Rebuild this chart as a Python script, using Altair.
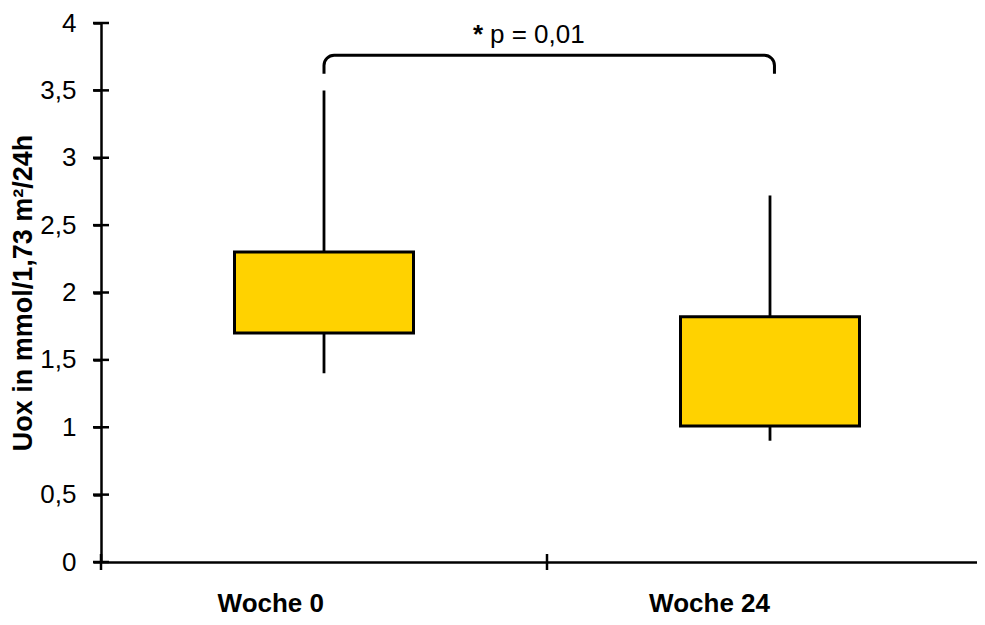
import altair as alt
import pandas as pd

# ---- data ----
categories = ["Woche 0", "Woche 24"]
whisker_low = [1.40, 0.90]
q1 = [1.70, 1.01]
q3 = [2.30, 1.82]
whisker_high = [3.50, 2.72]
y_ticks = [0, 0.5, 1, 1.5, 2, 2.5, 3, 3.5, 4]
y_title = "Uox in mmol/1,73 m²/24h"
p_text = "p = 0,01"
star_text = "*"

FONT = "Liberation Sans"
W, H = 892, 539
BOX_FILL = "#FFD200"

df = pd.DataFrame({"cat": categories, "lo": whisker_low, "q1": q1,
                   "q3": q3, "hi": whisker_high})
ticks_df = pd.DataFrame({"v": y_ticks})
bounds_df = pd.DataFrame({"cat": categories})
bracket_df = pd.DataFrame({"a": [categories[0]], "b": [categories[1]]})
ann_df = pd.DataFrame({"cat": [categories[1]], "p": [p_text], "s": [star_text]})

xscale = alt.Scale(domain=categories, paddingInner=0, paddingOuter=0)
yscale = alt.Scale(domain=[0, 4], nice=False)

x_axis = alt.Axis(title=None, labelFont=FONT, labelFontSize=26,
                  labelFontWeight="bold", labelColor="black", labelAngle=0,
                  ticks=False, labelPadding=41, domainColor="black",
                  domainWidth=2.5, grid=False)
y_axis = alt.Axis(values=y_ticks, title=y_title,
                  labelExpr="replace(toString(datum.value), '.', ',')",
                  labelFont=FONT, labelFontSize=26, labelColor="black",
                  labelPadding=17, tickSize=8, tickColor="black", tickWidth=2.5,
                  domainColor="black", domainWidth=2.5, grid=False,
                  titleFont=FONT, titleFontSize=27, titleFontWeight="bold",
                  titleColor="black", titlePadding=2)

X = alt.X("cat:N", scale=xscale, sort=categories, axis=x_axis)

bracket = alt.Chart(bracket_df).mark_rect(
    filled=False, stroke="black", strokeWidth=3,
    cornerRadiusTopLeft=18, cornerRadiusTopRight=18
).encode(
    x=alt.X("a:N", scale=xscale, bandPosition=0.5),
    x2=alt.X2("b", bandPosition=0.51),
    y=alt.datum(3.76, scale=yscale),
    y2=alt.datum(3.61),
)
cover = alt.Chart(bracket_df).mark_rect(
    fill="white", stroke="white", strokeWidth=5
).encode(
    x=alt.X("a:N", scale=xscale, bandPosition=0.5),
    x2=alt.X2("b", bandPosition=0.51),
    y=alt.datum(3.605, scale=yscale),
    y2=alt.datum(3.58),
)

whiskers = alt.Chart(df).mark_rule(color="black", strokeWidth=2.8).encode(
    x=X,
    y=alt.Y("lo:Q", scale=yscale, axis=y_axis),
    y2="hi:Q",
)
boxes = alt.Chart(df).mark_bar(
    fill=BOX_FILL, stroke="black", strokeWidth=3, size=179
).encode(
    x=X,
    y=alt.Y("q1:Q", scale=yscale),
    y2="q3:Q",
)

y_inner = alt.Chart(ticks_df).mark_tick(
    orient="horizontal", size=16, thickness=2.5, color="black", opacity=1
).encode(y=alt.Y("v:Q", scale=yscale), x=alt.value(0))

x_ticks0 = alt.Chart(bounds_df).mark_tick(
    orient="vertical", size=16, thickness=2.5, color="black", opacity=1
).encode(x=alt.X("cat:N", scale=xscale, bandPosition=0),
         y=alt.datum(0, scale=yscale))

p_lbl = alt.Chart(ann_df).mark_text(
    align="left", baseline="alphabetic", font=FONT, fontSize=26,
    color="black", dx=-57
).encode(x=alt.X("cat:N", scale=xscale, bandPosition=0),
         y=alt.datum(3.85, scale=yscale), text="p:N")
star_lbl = alt.Chart(ann_df).mark_text(
    align="right", baseline="alphabetic", font=FONT, fontSize=26,
    fontWeight="bold", color="black", dx=-64
).encode(x=alt.X("cat:N", scale=xscale, bandPosition=0),
         y=alt.datum(3.85, scale=yscale), text="s:N")

chart = alt.layer(
    bracket, cover, whiskers, boxes, y_inner, x_ticks0, p_lbl, star_lbl
).properties(
    width=W, height=H,
    autosize=alt.AutoSizeParams(type="none"),
    padding={"left": 93, "top": 15, "right": -16, "bottom": 55},
    background="white",
).configure_view(stroke=None)

chart.save("out.html", embed_options={"renderer": "svg", "actions": False})
